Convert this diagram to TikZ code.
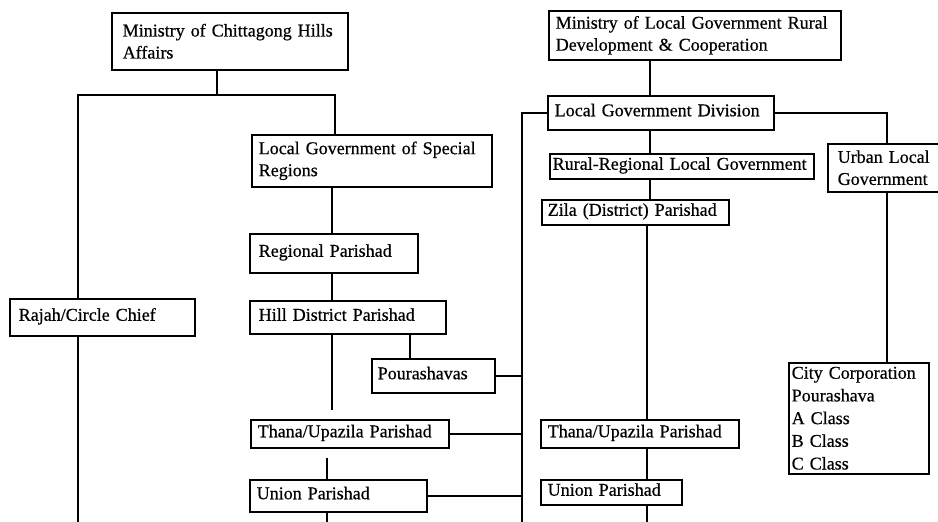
\documentclass[tikz,border=0pt]{standalone}
\usepackage{fontspec}
\setmainfont{Liberation Serif}[FakeBold=0.5]

\begin{document}
\begin{tikzpicture}[
  x=1pt, y=-1pt,
  unit/.style={
    draw,
    line width=1.5pt,
    anchor=north west,
    align=left,
    inner xsep=7pt,
    inner ysep=0pt,
    font=\fontsize{18}{22}\selectfont
  },
  single/.style={text height=13pt, text depth=6pt},
  link/.style={line width=1.5pt}
]
  \useasboundingbox (0,0) rectangle (938,522);

  % Chittagong Hills branch
  \node[unit,inner xsep=11pt,text width=214pt,minimum height=57pt] (cht) at (111,12)
    {Ministry of Chittagong Hills\\Affairs};
  \node[unit,single,inner xsep=9pt,text width=167pt,minimum height=37pt] (rajah) at (9,298)
    {Rajah/Circle Chief};
  \node[unit,text width=226pt,minimum height=52pt] (lgsr) at (251,134)
    {Local Government of Special\\Regions};
  \node[unit,single,inner xsep=9pt,text width=150pt,minimum height=39pt] (regional) at (249,233)
    {Regional Parishad};
  \node[unit,single,inner xsep=9pt,text width=178pt,minimum height=33pt] (hill) at (249,300)
    {Hill District Parishad};
  \node[unit,single,inner xsep=6pt,text width=111pt,minimum height=34pt] (pourashavas) at (371,358)
    {Pourashavas};
  \node[unit,single,text width=184pt,minimum height=28pt] (thanaL) at (250,419)
    {Thana/Upazila Parishad};
  \node[unit,single,text width=163pt,minimum height=32pt] (unionL) at (249,479)
    {Union Parishad};

  % Local Government Rural Development branch
  \node[unit,text width=278pt,minimum height=49pt] (lgrd) at (548,10)
    {Ministry of Local Government Rural\\Development \& Cooperation};
  \node[unit,single,text width=212pt,minimum height=34pt] (lgd) at (547,95)
    {Local Government Division};
  \node[unit,single,inner xsep=3pt,text width=258pt,minimum height=25pt] (rural) at (549,153)
    {Rural-Regional Local Government};
  \node[unit,inner xsep=10pt,text width=98pt,minimum height=48pt] (urban) at (827,143)
    {Urban Local\\Government};
  \node[unit,single,inner xsep=6pt,text width=175pt,minimum height=25pt] (zila) at (541,199)
    {Zila (District) Parishad};
  \node[unit,single,text width=184pt,minimum height=28pt] (thanaR) at (540,419)
    {Thana/Upazila Parishad};
  \node[unit,single,text width=127pt,minimum height=25pt] (unionR) at (540,479)
    {Union Parishad};
  \node[unit,inner xsep=3pt,text width=134pt,minimum height=111pt,
    font=\fontsize{18}{22.7}\selectfont] (city) at (788,362)
    {City Corporation\\Pourashava\\A Class\\B Class\\C Class};

  % bus lines and column positions
  \coordinate (chtdrop) at (217,95);
  \coordinate (busL) at (78,95);
  \coordinate (busR) at (335,95);
  \coordinate (rajahend) at (78,522);
  \coordinate (colL) at (332,0);
  \coordinate (colLb) at (327,522);
  \coordinate (pourdrop) at (410,0);
  \coordinate (trunkend) at (522,522);
  \coordinate (colR) at (650,0);
  \coordinate (colRb) at (647,522);

  \draw[link] (cht.south -| chtdrop) -- (chtdrop);
  \draw[link] (rajah.north -| busL) -- (busL) -- (busR) -- (lgsr.north -| busR);
  \draw[link] (rajah.south -| rajahend) -- (rajahend);
  \draw[link] (lgsr.south -| colL) -- (regional.north -| colL);
  \draw[link] (regional.south -| colL) -- (hill.north -| colL);
  \draw[link,shorten >=9pt] (hill.south -| colL) -- (thanaL.north -| colL);
  \draw[link] (hill.south -| pourdrop) -- (pourashavas.north -| pourdrop);
  \draw[link,shorten <=9pt] (thanaL.south -| colLb) -- (unionL.north -| colLb);
  \draw[link] (unionL.south -| colLb) -- (colLb);

  % trunk from the division down the middle
  \draw[link] (lgd.west) -| (trunkend);
  \draw[link] (pourashavas.east) -- (pourashavas.east -| trunkend);
  \draw[link] (thanaL.east) -- (thanaL.east -| trunkend);
  \draw[link] (unionL.east) -- (unionL.east -| trunkend);

  \draw[link] (lgrd.south -| colR) -- (lgd.north -| colR);
  \draw[link] (lgd.south -| colR) -- (rural.north -| colR);
  \draw[link] (rural.south -| colR) -- (zila.north -| colR);
  \draw[link] (zila.south -| colRb) -- (thanaR.north -| colRb);
  \draw[link] (thanaR.south -| colRb) -- (unionR.north -| colRb);
  \draw[link] (unionR.south -| colRb) -- (colRb);
  \draw[link] (lgd.east) -| (urban.north);
  \draw[link] (urban.south) -- (urban.south |- city.north);
\end{tikzpicture}
\end{document}
